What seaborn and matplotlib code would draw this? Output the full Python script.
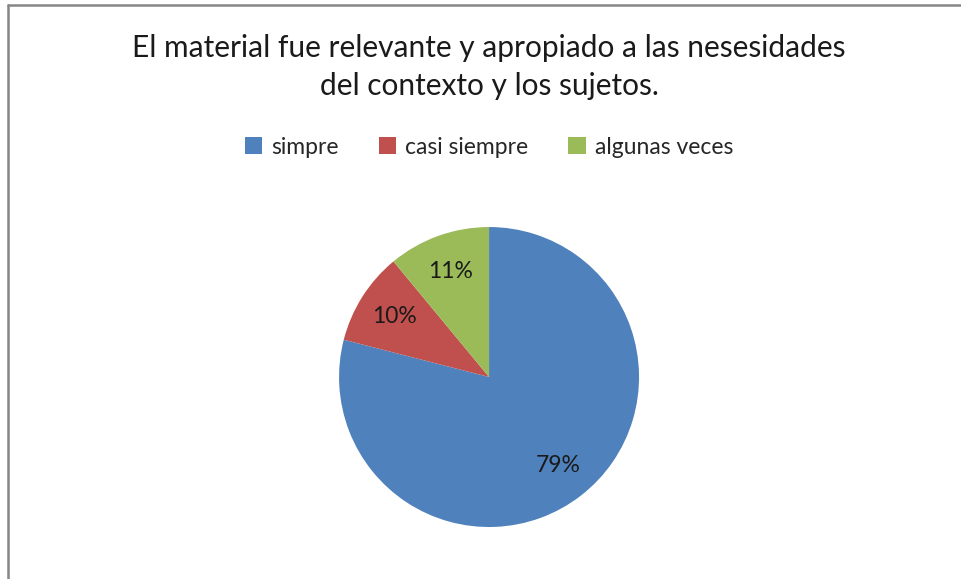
import seaborn as sns
import matplotlib.pyplot as plt

# Survey answers (percent)
categories = ['simpre', 'casi siempre', 'algunas veces']
values = [79, 10, 11]
colors = ['#4F81BD', '#C0504D', '#9BBB59']
title = 'El material fue relevante y apropiado a las nesesidades\ndel contexto y los sujetos.'

sns.set_theme(style='white')
plt.rcParams['font.family'] = ['Lato', 'DejaVu Sans']

fig = plt.figure(figsize=(9.61, 5.79), dpi=100)
fig.patch.set_facecolor('white')

# chart border (only left and top visible in the crop)
fig.add_artist(plt.Line2D([0.0085, 0.0085], [0, 0.991], transform=fig.transFigure,
                          color='#868686', lw=1.8))
fig.add_artist(plt.Line2D([0.0085, 1.0], [0.991, 0.991], transform=fig.transFigure,
                          color='#868686', lw=1.8))

ax = fig.add_axes([0.3528, 0.0898, 0.3122, 0.5181])
wedges, texts, autotexts = ax.pie(values, colors=colors, startangle=90, counterclock=False,
                                  autopct='%1.0f%%', pctdistance=0.75,
                                  wedgeprops=dict(linewidth=0),
                                  textprops=dict(fontsize=16.5, color='#1a1a1a'))
ax.set_xlim(-1, 1)
ax.set_ylim(-1, 1)
ax.set_aspect('equal')

fig.text(0.5088, 0.884, title, ha='center', va='center', fontsize=21.5,
         color='#1a1a1a', linespacing=1.42)

fig.legend(wedges, categories, loc='center', bbox_to_anchor=(0.5088, 0.746), ncol=3,
           frameon=False, fontsize=16.5, handlelength=0.75, handleheight=0.75,
           handletextpad=0.4, columnspacing=1.75)

fig.savefig('out.png', dpi=100)
